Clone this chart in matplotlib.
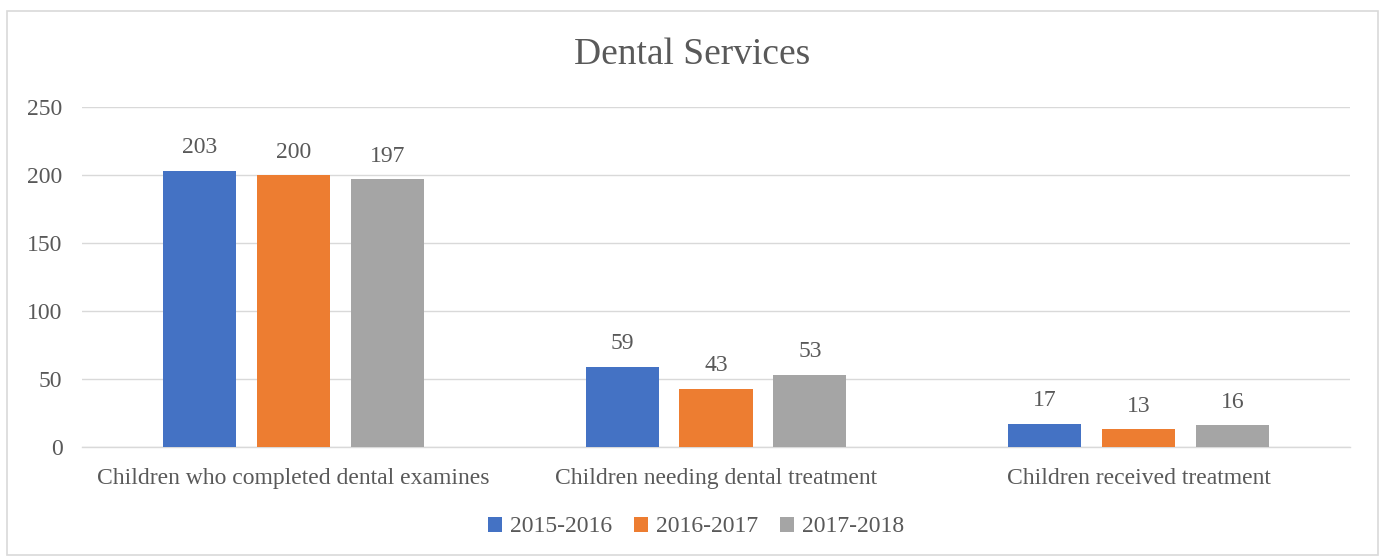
import numpy as np
import matplotlib.pyplot as plt
from matplotlib.patches import Rectangle

plt.rcParams['font.family'] = ['Liberation Serif', 'DejaVu Serif']

categories = ['Children who completed dental examines',
              'Children needing dental treatment',
              'Children received treatment']
series = ['2015-2016', '2016-2017', '2017-2018']
values = [[203, 59, 17],
          [200, 43, 13],
          [197, 53, 16]]
colors = ['#4472C4', '#ED7D31', '#A5A5A5']
text_color = '#595959'

fig = plt.figure(figsize=(13.85, 5.58), dpi=100)
fig.patches.append(Rectangle((0.005, 0.005), 0.99, 0.975, transform=fig.transFigure,
                             fill=False, edgecolor='#D9D9D9', linewidth=1.2))
ax = fig.add_axes([82 / 1385, 1 - 447 / 558, (1350 - 82) / 1385, 340 / 558])

x = np.arange(len(categories))
width = 0.173
step = 0.222
for i, (name, vals) in enumerate(zip(series, values)):
    pos = x + (i - 1) * step
    bars = ax.bar(pos, vals, width, color=colors[i], label=name, zorder=3)
    for b, v in zip(bars, vals):
        ax.annotate(str(v), (b.get_x() + b.get_width() / 2, v), xytext=(0, 9),
                    textcoords='offset points', ha='center', va='bottom',
                    fontsize=17, color=text_color)

ax.set_xlim(-0.5, 2.5)
ax.set_ylim(0, 250)
ax.set_yticks(range(0, 251, 50))
ax.set_xticks(x)
ax.set_xticklabels(categories)
ax.grid(axis='y', color='#D9D9D9', linewidth=1, zorder=0)
for s in ['top', 'right', 'left']:
    ax.spines[s].set_visible(False)
ax.spines['bottom'].set_color('#D9D9D9')
ax.spines['bottom'].set_linewidth(1)
ax.tick_params(axis='both', length=0, labelsize=17, colors=text_color)
ax.tick_params(axis='x', pad=15)
ax.tick_params(axis='y', pad=14)

fig.text(692 / 1385, 1 - 55 / 558, 'Dental Services', ha='center', va='center',
         fontsize=27, color=text_color)

leg = fig.legend(loc='center', bbox_to_anchor=(696 / 1385, 1 - 527 / 558), ncol=3,
                 frameon=False, fontsize=17, handlelength=0.6, handleheight=0.6,
                 handletextpad=0.35, columnspacing=0.9)
for t in leg.get_texts():
    t.set_color(text_color)

fig.savefig('out.png', dpi=100)
